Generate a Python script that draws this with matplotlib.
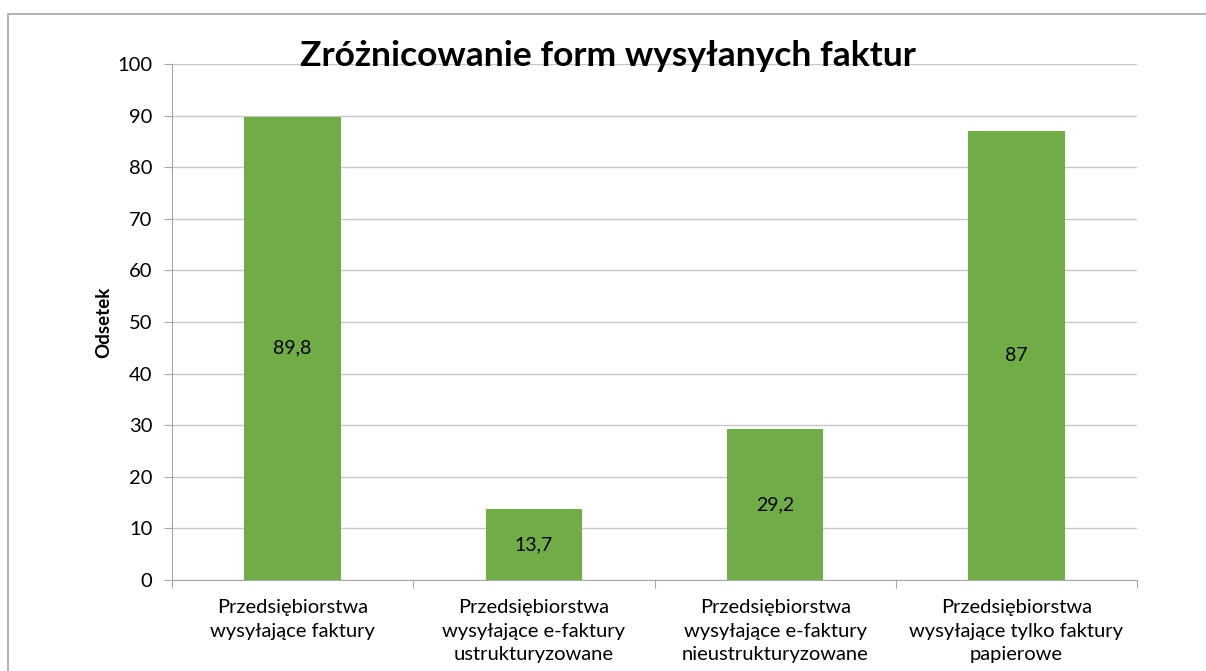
import matplotlib
matplotlib.use("Agg")
import matplotlib.pyplot as plt
from matplotlib.patches import Rectangle

categories = [
    "Przedsiębiorstwa\nwysyłające faktury",
    "Przedsiębiorstwa\nwysyłające e-faktury\nustrukturyzowane",
    "Przedsiębiorstwa\nwysyłające e-faktury\nnieustrukturyzowane",
    "Przedsiębiorstwa\nwysyłające tylko faktury\npapierowe",
]
values = [89.8, 13.7, 29.2, 87]
value_labels = ["89,8", "13,7", "29,2", "87"]
y_ticks = list(range(0, 101, 10))

plt.rcParams['font.family'] = ['Lato', 'DejaVu Sans']

fig = plt.figure(figsize=(12.06, 6.71), dpi=100)
fig.patches.append(Rectangle((7.5/1206, -0.1), 1.2, 1 - 14/671 + 0.1,
                             transform=fig.transFigure, fill=False,
                             edgecolor="#A6A6A6", linewidth=1.2))
ax = fig.add_axes([172/1206, 1 - 580/671, (1137-172)/1206, (580-64)/671])

x = list(range(len(categories)))
ax.bar(x, values, width=0.4, color="#70AD47", zorder=3)
for xi, v, lab in zip(x, values, value_labels):
    ax.text(xi, v/2, lab, ha="center", va="center", fontsize=14, color="black", zorder=4)

ax.set_xlim(-0.5, len(categories) - 0.5)
ax.set_ylim(0, 100)
ax.set_yticks(y_ticks)
ax.set_yticklabels([str(t) for t in y_ticks], fontsize=14.5)
ax.yaxis.grid(True, color="#C8C8C8", linewidth=1, zorder=0)
ax.set_axisbelow(True)

ax.set_xticks([i - 0.5 for i in range(len(categories) + 1)])
ax.set_xticklabels([])
ax.set_xticks(x, minor=True)
ax.set_xticklabels(categories, minor=True, fontsize=14.5, linespacing=1.45)
ax.tick_params(axis="x", which="minor", length=0, pad=14)
ax.tick_params(axis="x", which="major", length=6, color="#A6A6A6")
ax.tick_params(axis="y", length=6, color="#A6A6A6", pad=8)

for s in ["top", "right"]:
    ax.spines[s].set_visible(False)
for s in ["left", "bottom"]:
    ax.spines[s].set_color("#A6A6A6")

ax.set_ylabel("Odsetek", fontsize=13.5, fontweight="bold", labelpad=4)
fig.text(608/1206, 1 - 56/671, "Zróżnicowanie form wysyłanych faktur",
         ha="center", va="center", fontsize=25.5, fontweight="bold")

fig.savefig("out.png", dpi=100)
